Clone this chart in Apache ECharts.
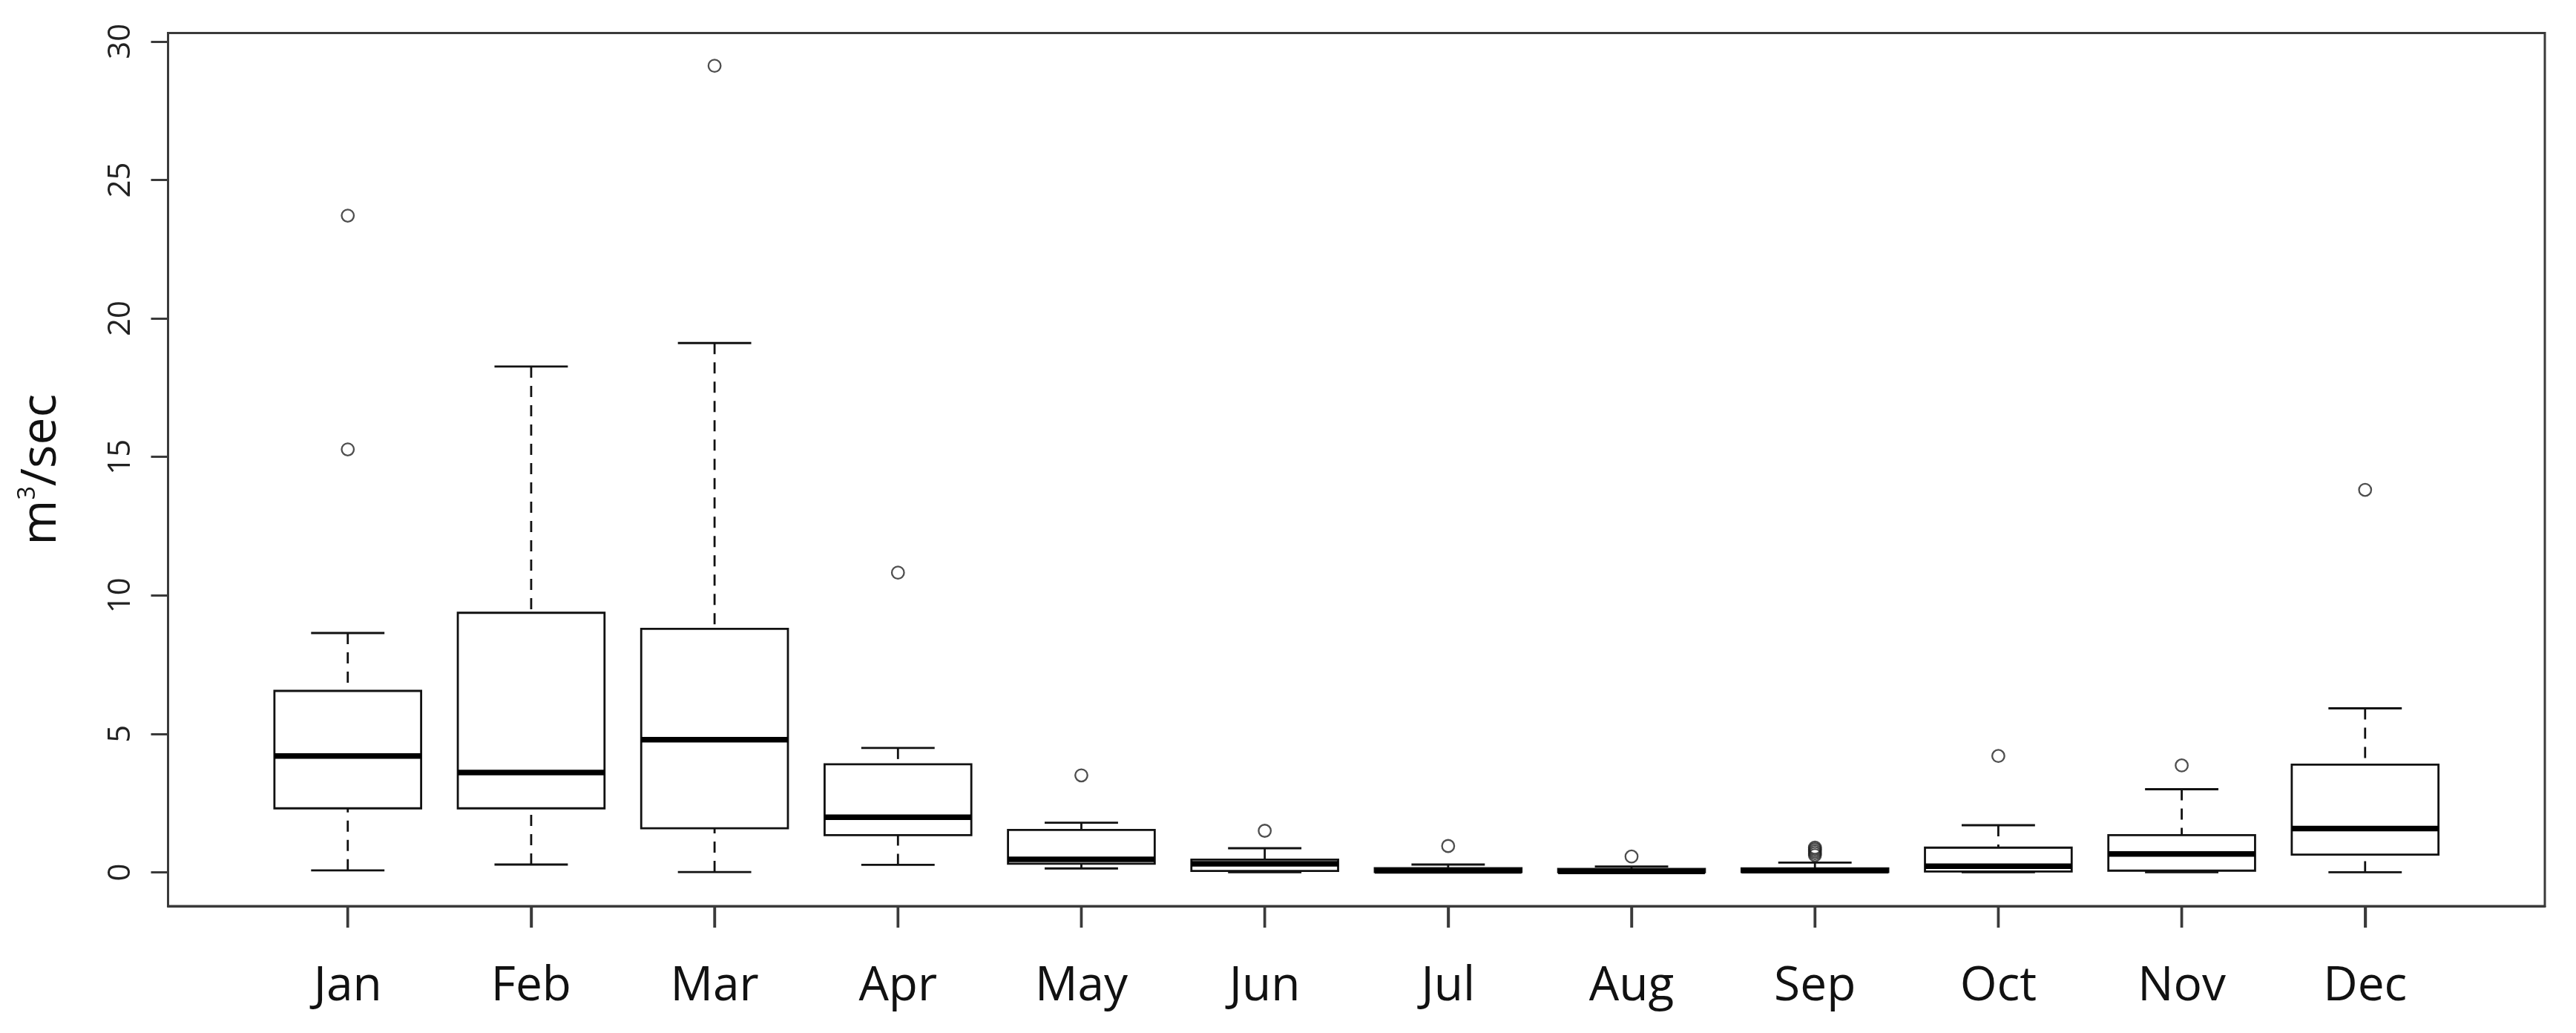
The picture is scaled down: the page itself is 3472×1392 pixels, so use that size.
<!DOCTYPE html>
<html>
<head>
<meta charset="utf-8">
<script src="https://cdn.jsdelivr.net/npm/echarts@6/dist/echarts.min.js"></script>
<style>
html,body{margin:0;padding:0;background:#fff;}
#chart{width:3472px;height:1392px;}
</style>
</head>
<body>
<div id="chart"></div>
<script>
// ---- data ----
const months = ['Jan','Feb','Mar','Apr','May','Jun','Jul','Aug','Sep','Oct','Nov','Dec'];
const monthPos = [1,2,3,4,5,6,7,8,9,10,11,12];
const whiskerLow  = [0.07, 0.28, 0.01, 0.27, 0.14, 0.00, 0.00, 0.00, 0.00, 0.00, 0.00, 0.00];
const quart1      = [2.31, 2.31, 1.59, 1.34, 0.31, 0.05, 0.01, 0.00, 0.01, 0.03, 0.06, 0.64];
const medians     = [4.20, 3.60, 4.79, 1.99, 0.47, 0.31, 0.05, 0.03, 0.06, 0.22, 0.66, 1.58];
const quart3      = [6.55, 9.37, 8.79, 3.90, 1.53, 0.46, 0.15, 0.12, 0.14, 0.89, 1.34, 3.89];
const whiskerHigh = [8.64, 18.26, 19.11, 4.49, 1.79, 0.87, 0.28, 0.21, 0.35, 1.70, 3.00, 5.92];
const outliers = [
  [15.27, 23.71],
  [],
  [29.12],
  [10.82],
  [3.50],
  [1.50],
  [0.95],
  [0.57],
  [0.62, 0.69, 0.76, 0.83, 0.89],
  [4.20],
  [3.86],
  [13.81]
];
const yTicks = [0, 5, 10, 15, 20, 25, 30];
const yTitle = 'm{sup|3}/sec';
const yMin = -1.22, yMax = 30.3;
const xMin = 0.02, xMax = 12.98;

// ---- build series data ----
const boxData = monthPos.map((x, i) => [x, whiskerLow[i], quart1[i], medians[i], quart3[i], whiskerHigh[i]]);
const outlierData = [];
outliers.forEach((arr, i) => arr.forEach(v => outlierData.push([monthPos[i], v])));
const tickData = monthPos.map(x => [x, 0]);

const chart = echarts.init(document.getElementById('chart'), null, {renderer: 'canvas'});

const axisColor = '#3a3a3a';
const lineColor = '#111';

function renderBox(params, api) {
  const x = api.value(0);
  const pMin = api.coord([x, api.value(1)]);
  const pQ1 = api.coord([x, api.value(2)]);
  const pMed = api.coord([x, api.value(3)]);
  const pQ3 = api.coord([x, api.value(4)]);
  const pMax = api.coord([x, api.value(5)]);
  const boxW = api.size([0.8, 0])[0];
  const capW = boxW / 2;
  const cx = pMed[0];
  const dashStyle = {stroke: lineColor, lineWidth: 2.8, lineDash: [15, 11]};
  const solid = {stroke: lineColor, lineWidth: 2.8};
  return {
    type: 'group',
    children: [
      {type: 'line', shape: {x1: cx, y1: pMax[1], x2: cx, y2: pQ3[1]}, style: dashStyle},
      {type: 'line', shape: {x1: cx, y1: pMin[1], x2: cx, y2: pQ1[1]}, style: dashStyle},
      {type: 'line', shape: {x1: cx - capW / 2, y1: pMax[1], x2: cx + capW / 2, y2: pMax[1]}, style: solid},
      {type: 'line', shape: {x1: cx - capW / 2, y1: pMin[1], x2: cx + capW / 2, y2: pMin[1]}, style: solid},
      {type: 'rect', shape: {x: cx - boxW / 2, y: pQ3[1], width: boxW, height: pQ1[1] - pQ3[1]},
        style: {fill: '#fff', stroke: lineColor, lineWidth: 2.8}},
      {type: 'line', shape: {x1: cx - boxW / 2, y1: pMed[1], x2: cx + boxW / 2, y2: pMed[1]},
        style: {stroke: '#000', lineWidth: 7.5}}
    ]
  };
}

// x-axis tick marks below the frame, placed through the axis scale
function renderTick(params, api) {
  const p = api.coord([api.value(0), yMin]);
  return {
    type: 'line',
    shape: {x1: p[0], y1: p[1], x2: p[0], y2: p[1] + 29},
    style: {stroke: axisColor, lineWidth: 3.4}
  };
}

const option = {
  animation: false,
  backgroundColor: '#fff',
  grid: {
    left: 226.5, top: 44.6, right: 42, bottom: 171,
    show: true, borderColor: axisColor, borderWidth: 3,
    containLabel: false, outerBoundsMode: 'none'
  },
  xAxis: {
    type: 'value',
    min: xMin, max: xMax,
    axisLine: {show: true, onZero: false, lineStyle: {color: axisColor, width: 3}},
    splitLine: {show: false},
    axisTick: {show: true, customValues: monthPos, length: 29, lineStyle: {color: axisColor, width: 3.4}},
    axisLabel: {
      show: true, customValues: monthPos,
      formatter: v => months[Math.round(v) - 1] || '',
      fontFamily: 'Open Sans', fontSize: 64, color: '#111', margin: 77
    }
  },
  yAxis: {
    type: 'value',
    min: yMin, max: yMax,
    name: yTitle,
    nameLocation: 'middle',
    nameRotate: 90,
    nameGap: 135,
    nameMoveOverlap: false,
    nameTextStyle: {
      fontFamily: 'Open Sans', fontSize: 66, color: '#111', lineHeight: 70,
      rich: {sup: {fontFamily: 'Open Sans', fontSize: 32, verticalAlign: 'top', lineHeight: 34, color: '#111'}}
    },
    axisLine: {show: true, onZero: false, lineStyle: {color: axisColor, width: 3}},
    splitLine: {show: false},
    axisTick: {show: true, customValues: yTicks, length: 23, lineStyle: {color: axisColor, width: 3}},
    axisLabel: {
      show: true, customValues: yTicks, rotate: 90,
      fontFamily: 'Open Sans', fontSize: 42, color: '#222', margin: 42
    }
  },
  series: [
    {
      type: 'custom',
      renderItem: renderBox,
      data: boxData,
      encode: {x: 0, y: [1, 2, 3, 4, 5]},
      clip: false,
      z: 2
    },
    {
      type: 'scatter',
      data: outlierData,
      symbol: 'circle',
      symbolSize: 16.5,
      itemStyle: {color: 'rgba(0,0,0,0)', borderColor: '#222', borderWidth: 2.3},
      z: 3
    },
    {
      type: 'custom',
      renderItem: renderTick,
      data: tickData,
      encode: {x: 0, y: 1},
      clip: false,
      z: 5
    }
  ]
};
chart.setOption(option);
</script>
</body>
</html>
